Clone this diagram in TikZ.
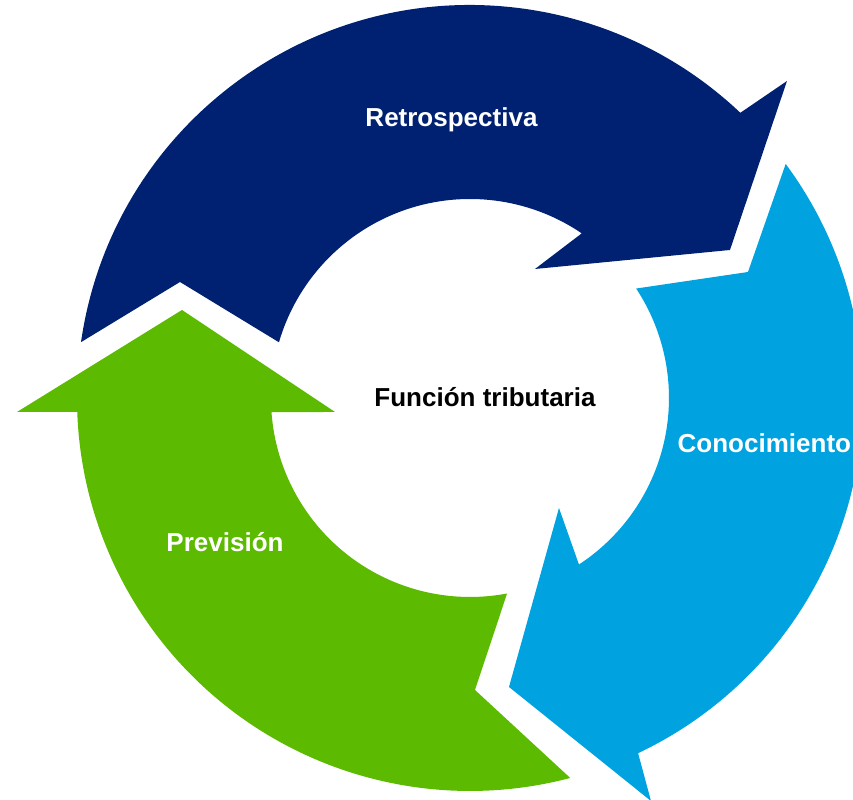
\documentclass[tikz,border=0pt]{standalone}
\usepackage{fontspec}
\setmainfont{Liberation Sans}
\usetikzlibrary{positioning, calc}

\definecolor{retroblue}{RGB}{0,33,113}
\definecolor{conocblue}{RGB}{0,163,224}
\definecolor{previgreen}{RGB}{92,186,0}

\begin{document}
\begin{tikzpicture}[
  cycle_arrow/.style = {draw=none},
  arrow_text/.style = {text=white, font=\fontsize{7.4}{9}\selectfont\bfseries, inner sep=0pt, anchor=base},
  center_text/.style = {text=black, font=\fontsize{7.4}{9}\selectfont\bfseries, inner sep=0pt, anchor=base}
]
\useasboundingbox (-4.70,-4.02) rectangle (3.83,3.98);

%--------------------------------------------------
% Curved arrows (ring around the centre)
%--------------------------------------------------

% Retrospectiva (top, dark blue)
\fill[cycle_arrow, retroblue]
  (171.83:3.93) arc[start angle=171.83, end angle=46.53, radius=3.93]
  -- (3.17,3.17) -- (2.60,1.48) -- (0.65,1.29)
  -- (55.83:1.99) arc[start angle=55.83, end angle=163.74, radius=1.99]
  -- (-2.90,1.16) -- cycle;

% Conocimiento (right, light blue)
\fill[cycle_arrow, conocblue]
  (36.55:3.93) arc[start angle=36.55, end angle=-64.67, radius=3.93]
  -- (1.81,-4.03) -- (0.39,-2.89) -- (0.89,-1.10)
  -- (-56.80:1.99) arc[start angle=-56.80, end angle=33.37, radius=1.99]
  -- (2.78,1.26) -- cycle;

% Prevision (left, green)
\fill[cycle_arrow, previgreen]
  (-75.22:3.93) arc[start angle=-75.22, end angle=-177.96, radius=3.93]
  -- (-4.53,-0.14) -- (-2.88,0.88) -- (-1.35,-0.14)
  -- (-175.94:1.99) arc[start angle=-175.94, end angle=-79.26, radius=1.99]
  -- (0.05,-2.92) -- cycle;

%--------------------------------------------------
% Labels
%--------------------------------------------------
\node[arrow_text] (retro) at (-0.185,2.713) {Retrospectiva};
\node[arrow_text, anchor=base west] (conoc) at (2.07,-0.55) {Conocimiento};
\node[arrow_text] (prev) at (-2.45,-1.54) {Previsión};
\node[center_text] (funcion) at (0.15,-0.09) {Función tributaria};

\end{tikzpicture}
\end{document}
